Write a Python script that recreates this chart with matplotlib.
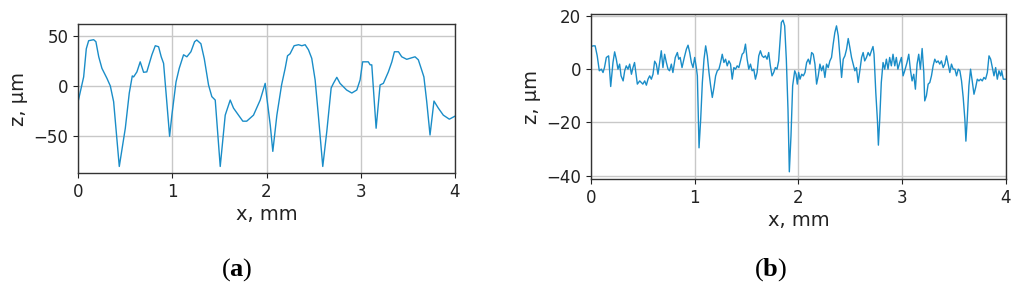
import matplotlib
matplotlib.use("Agg")
import matplotlib.pyplot as plt

# ---- data (a) ----
xa = [0.0, 0.025, 0.06, 0.088, 0.113, 0.166, 0.19, 0.22, 0.254, 0.307, 0.343, 0.378,
      0.438, 0.502, 0.544, 0.576, 0.59, 0.625, 0.66, 0.696, 0.73, 0.784, 0.82, 0.855,
      0.883, 0.908, 0.936, 0.972, 0.996, 1.04, 1.074, 1.12, 1.155, 1.198, 1.237, 1.26,
      1.304, 1.34, 1.385, 1.42, 1.456, 1.509, 1.562, 1.615, 1.65, 1.703, 1.749, 1.79,
      1.862, 1.933, 1.986, 2.0, 2.04, 2.067, 2.11, 2.16, 2.198, 2.223, 2.25, 2.293,
      2.34, 2.375, 2.41, 2.445, 2.48, 2.516, 2.55, 2.597, 2.64, 2.686, 2.71, 2.746,
      2.78, 2.85, 2.905, 2.958, 2.993, 3.02, 3.08, 3.1, 3.117, 3.163, 3.205, 3.24,
      3.293, 3.33, 3.357, 3.4, 3.435, 3.488, 3.54, 3.576, 3.611, 3.646, 3.67, 3.7,
      3.735, 3.777, 3.823, 3.876, 3.94, 4.0]
za = [-16, -5.6, 9, 37, 45, 46, 44, 29, 17.5, 7.6, 0, -15.6,
      -80, -42, -7, 10, 9, 14, 24, 13.6, 14, 31, 40, 39,
      29, 22.5, -9, -50, -29, 4, 17.5, 31, 29, 34, 44, 45.7,
      42, 27, 1, -10.6, -14, -80, -29, -14, -22, -29, -35, -35,
      -29, -14, 2.6, -9, -39, -65, -29, 1, 17.5, 30, 32, 40,
      41, 40, 41, 36, 27.5, 6, -29, -80, -45, -2, 2.6, 8.6,
      2.6, -4, -7, -4, 6, 24, 24, 21, 21, -42, 1, 2.6,
      14, 24, 34, 34, 29, 26.5, 28, 29, 26, 16, 9, -15.6,
      -48.7, -15, -22, -29, -33, -30]

# ---- data (b) ----
xb = [0.0, 0.02, 0.04, 0.06, 0.08, 0.1, 0.116, 0.13, 0.148, 0.17, 0.19, 0.212, 0.228,
      0.244, 0.26, 0.276, 0.29, 0.31, 0.325, 0.34, 0.357, 0.373, 0.39, 0.405, 0.42,
      0.447, 0.47, 0.485, 0.5, 0.518, 0.534, 0.55, 0.566, 0.582, 0.598, 0.614, 0.63,
      0.646, 0.662, 0.678, 0.694, 0.71, 0.727, 0.743, 0.758, 0.775, 0.79, 0.813, 0.833,
      0.846, 0.86, 0.878, 0.9, 0.92, 0.936, 0.952, 0.968, 0.984, 1.0, 1.016, 1.026,
      1.042, 1.058, 1.074, 1.09, 1.106, 1.122, 1.138, 1.154, 1.17, 1.186, 1.202, 1.218,
      1.234, 1.25, 1.266, 1.282, 1.298, 1.314, 1.33, 1.346, 1.362, 1.378, 1.394, 1.41,
      1.426, 1.442, 1.458, 1.474, 1.49, 1.506, 1.522, 1.538, 1.554, 1.57, 1.586, 1.602,
      1.618, 1.634, 1.65, 1.666, 1.682, 1.698, 1.714, 1.73, 1.746, 1.762, 1.778, 1.794,
      1.81, 1.827, 1.836, 1.852, 1.868, 1.884, 1.9, 1.913, 1.929, 1.945, 1.965, 1.978,
      1.99, 2.003, 2.016, 2.032, 2.048, 2.064, 2.08, 2.096, 2.112, 2.128, 2.144, 2.16,
      2.176, 2.192, 2.208, 2.224, 2.24, 2.256, 2.272, 2.288, 2.304, 2.32, 2.336, 2.352,
      2.368, 2.385, 2.4, 2.417, 2.433, 2.449, 2.465, 2.481, 2.497, 2.513, 2.529, 2.545,
      2.56, 2.577, 2.593, 2.61, 2.625, 2.64, 2.657, 2.673, 2.689, 2.705, 2.72, 2.73,
      2.747, 2.763, 2.772, 2.785, 2.8, 2.817, 2.833, 2.849, 2.865, 2.881, 2.897, 2.913,
      2.93, 2.945, 2.96, 2.978, 2.994, 3.01, 3.026, 3.048, 3.065, 3.08, 3.097, 3.113,
      3.129, 3.145, 3.161, 3.177, 3.194, 3.21, 3.219, 3.235, 3.252, 3.268, 3.284, 3.3,
      3.316, 3.332, 3.348, 3.364, 3.38, 3.397, 3.413, 3.429, 3.445, 3.461, 3.477, 3.494,
      3.51, 3.526, 3.542, 3.558, 3.574, 3.59, 3.606, 3.616, 3.629, 3.645, 3.661, 3.677,
      3.694, 3.71, 3.726, 3.742, 3.758, 3.774, 3.79, 3.806, 3.823, 3.839, 3.855, 3.871,
      3.887, 3.903, 3.919, 3.935, 3.952, 3.961, 3.977, 4.0]
zb = [8.5, 8.75, 8.75, 5, -0.6, 0, -1.25, 0.6, 4.4, 5, -6.5, 2.5, 6.5,
      3.75, 0, 1.9, -2.5, -4.4, -0.6, 1.25, 0, 1.9, -1.9, 0.6, 2.5,
      -5.6, -4.4, -5, -5.6, -4.4, -6, -3.75, -2.5, -3.75, -1.9, 3, 1.9,
      -1.9, 2.5, 6.9, 0.6, 5.6, 2.5, 0, -0.6, 1.9, -1.25, 4.4, 6.25,
      3.75, 4.4, 0.6, 4.4, 7.5, 9, 6.25, 2.5, 0.6, 4.4, 0.6, -2.5,
      -29.5, -18.75, -5, 3.75, 8.75, 5, -1.25, -6.25, -10.6, -6.9, -2.5, -0.6,
      0, 2.5, 5.6, 2.5, 3.75, 1.25, 3.1, 1.9, -3.75, 0.6, 0, 1.25,
      0.6, 3.1, 5.6, 6.25, 9.4, 3.75, 0, 1.9, -0.6, 0, -3.75, -1.25,
      5, 6.9, 5, 4.4, 5, 3.75, 6.25, 1.25, -2.5, -1.25, 0.6, 0,
      3.1, 12.5, 17.5, 18.4, 16.25, 3.75, -15, -38.5, -25, -6.25, -0.6, -1.9,
      -5.6, -1.25, -3.75, -1.9, -2.5, -1.25, 2.5, 3.75, 1.9, 6.25, 5.6, 1.9,
      -5.6, -2.5, 1.9, -0.6, 1.25, -3.1, 1.9, 0.6, 3.1, 4.4, 9.4, 13.75,
      16.25, 12.5, 5, -3.1, 3.75, 5, 7.5, 11.5, 8.1, 4.4, 1.9, -0.6,
      0.6, -5, -0.6, 4.4, 6.25, 3.1, 4.4, 6.25, 5, 6.9, 8.5, 5.6,
      -8.75, -19.4, -28.5, -18.75, -5, 2.5, 0, 3.75, 0, 4.4, 1.25, 5.6,
      1.25, 4.4, 0, 2.5, 4.4, -2.5, -0.6, 2.5, 5.6, 0, -4.4, -1.9,
      -7.5, 1.9, 5.6, 0, 7.75, -1.25, -11.9, -10, -5.6, -5, -2.5, 1.25,
      3.75, 2.5, 3.1, 1.9, 3.1, 0.6, 1.9, 5, 1.9, -1.25, 1.9, 0,
      0, -2.5, 0, -0.6, -4.4, -10.6, -18.75, -27, -18.75, -6.25, 0, -4.4,
      -9.4, -6.9, -3.75, -4.4, -3.75, -4.4, -3.1, -3.75, -1.25, 5, 3.75, 0.6,
      -2.5, 0.6, -3.75, -0.6, -2.5, -0.6, -3.75, -3.75]

x_ticks = [0, 1, 2, 3, 4]
ticks_a = [-50, 0, 50]
ticks_b = [-40, -20, 0, 20]
panel_labels = ["a", "b"]

LINE = "#1a8dc8"
plt.rcParams["mathtext.fontset"] = "custom"
plt.rcParams["mathtext.rm"] = "Liberation Serif"
plt.rcParams["mathtext.bf"] = "Liberation Serif:bold"

fig = plt.figure(figsize=(10.2, 2.94), dpi=100)
axa = fig.add_axes([78 / 1020, 1 - 173 / 294, 377 / 1020, 149 / 294])
axb = fig.add_axes([591 / 1020, 1 - 179 / 294, 414.7 / 1020, 165 / 294])

for ax, x, z, yt, yl in [(axa, xa, za, ticks_a, (-86.5, 61.6)),
                         (axb, xb, zb, ticks_b, (-41.2, 20.7))]:
    ax.plot(x, z, color=LINE, lw=1.0)
    ax.set_xlim(0, 4)
    ax.set_ylim(*yl)
    ax.set_xticks(x_ticks)
    ax.set_yticks(yt)
    ax.grid(True, color="#c8c8c8", lw=1.0)
    ax.set_axisbelow(True)
    ax.tick_params(labelsize=12, colors="#222222")
    for s in ax.spines.values():
        s.set_color("#333333")
        s.set_linewidth(1.0)
    ax.set_xlabel("x, mm", fontsize=14, color="#222222", labelpad=3)
    ax.set_ylabel("z, μm", fontsize=14, color="#222222")

for xpos, lab in zip([237 / 1020, 771 / 1020], panel_labels):
    fig.text(xpos, 1 - 270 / 294, r"($\mathbf{%s}$)" % lab, fontsize=19,
             family="Liberation Serif", ha="center", va="center")

fig.savefig("out.png", dpi=100)
